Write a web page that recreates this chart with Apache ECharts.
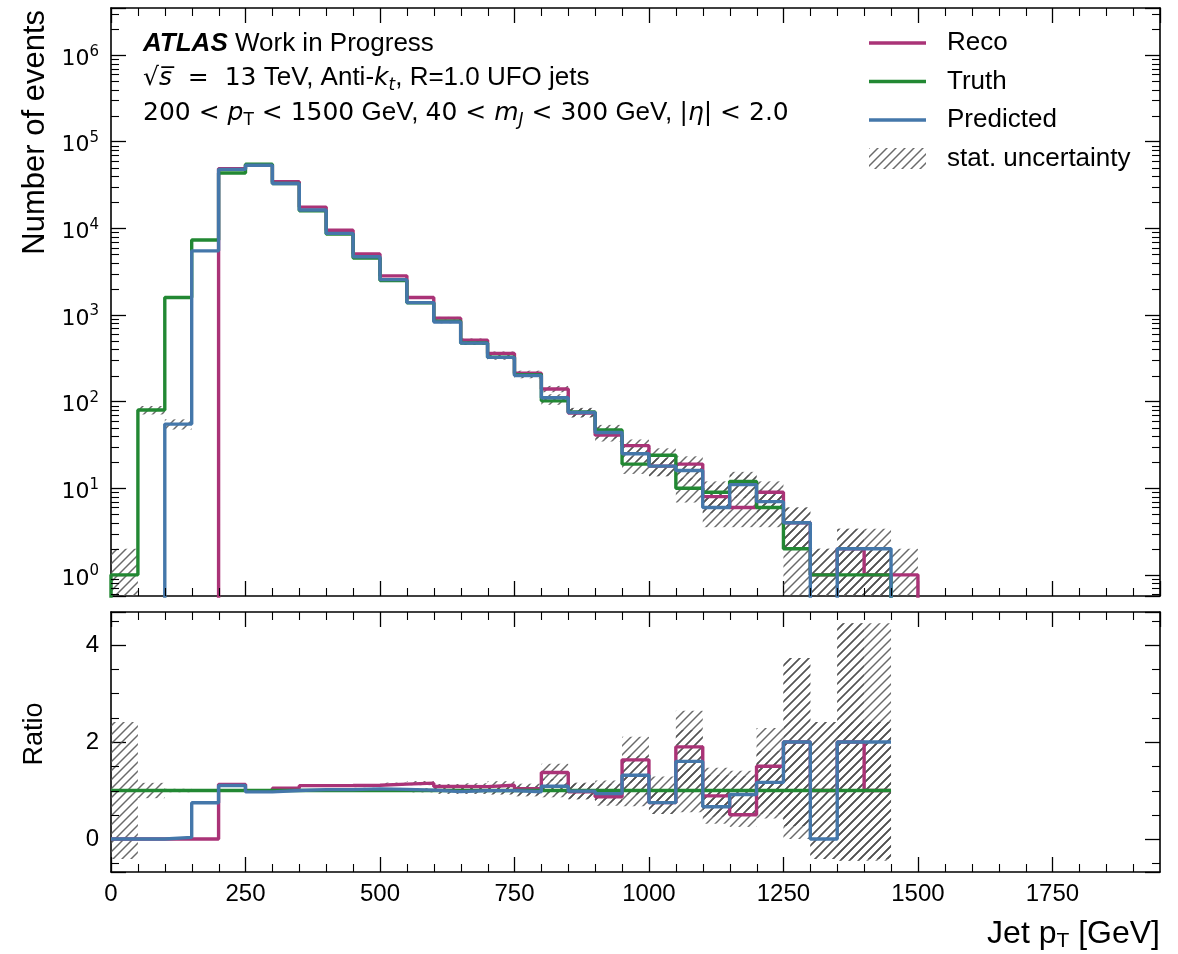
<!DOCTYPE html>
<html>
<head>
<meta charset="utf-8">
<script src="https://cdn.jsdelivr.net/npm/echarts@6/dist/echarts.min.js"></script>
<style>
html,body{margin:0;padding:0;background:#fff;}
#chart{width:1178px;height:954px;}
</style>
</head>
<body>
<div id="chart"></div>
<script>
// ---------------- data ----------------
const binEdges = [0,50,100,150,200,250,300,350,400,450,500,550,600,650,700,750,800,850,900,950,1000,1050,1100,1150,1200,1250,1300,1350,1400,1450,1500];
const reco      = [0,0,0,0,49000,54000,34500,17600,9500,5050,2830,1590,920,513,360,213,140,74,41,31,18,19,8,6,9,4,1,2,1,1];
const truth     = [1,80,1590,7350,43500,55000,33000,16000,8600,4550,2500,1380,850,475,325,205,102,76,47,19,24,10,9,12,6,2,1,1,1,0];
const predicted = [0,0,55,5500,48000,53500,33000,16300,8750,4700,2560,1390,830,474,324,200,111,75,44,25,18,16,6,11,7,4,0,2,2,0];
const seriesNames = ['Reco','Truth','Predicted'];
const xTickLabels = [0,250,500,750,1000,1250,1500,1750];
const ratioTickLabels = [0,2,4];

// ---------------- axis ranges / styles ----------------
const X_RANGE = [0, 1950];
const Y_MAIN = [0.57, 3.5e6];
const Y_RATIO = [-0.68, 4.68];
const ZERO = 1e-3;
const FONT = 'Liberation Sans, Arial, Helvetica, sans-serif';
const MATH = 'DejaVu Sans, sans-serif';
const COLORS = {Reco:'#AA3377', Truth:'#228833', Predicted:'#4477AA'};
const LW = 3.4;

function makeHatch(){
  const s = 9, c = document.createElement('canvas');
  c.width = s; c.height = s;
  const g = c.getContext('2d');
  g.strokeStyle = 'rgba(80,80,80,0.85)';
  g.lineWidth = 1.45;
  g.beginPath();
  g.moveTo(-1, s+1); g.lineTo(s+1, -1);
  g.moveTo(-1, 1); g.lineTo(1, -1);
  g.moveTo(s-1, s+1); g.lineTo(s+1, s-1);
  g.stroke();
  return c;
}
const hatch = {image: makeHatch(), repeat: 'repeat'};

// ---------------- derived series ----------------
const hists = {Reco: reco, Truth: truth, Predicted: predicted};
const nb = truth.length;

function stepMain(vals){
  const pts = [[binEdges[0], ZERO]];
  for (let i = 0; i < nb; i++) pts.push([binEdges[i], vals[i] > 0 ? vals[i] : ZERO]);
  pts.push([binEdges[nb], vals[nb-1] > 0 ? vals[nb-1] : ZERO]);
  pts.push([binEdges[nb], ZERO]);
  return pts;
}
function ratioVals(vals){
  return vals.map((v,i) => truth[i] > 0 ? v / truth[i] : null);
}
function stepRatio(vals){
  const r = ratioVals(vals);
  const pts = [];
  let last = null;
  for (let i = 0; i < nb; i++){
    if (r[i] === null) break;
    pts.push([binEdges[i], r[i]]);
    last = i;
  }
  pts.push([binEdges[last+1], r[last]]);
  return pts;
}
function mainBands(){
  const out = [];
  seriesNames.forEach(n => {
    hists[n].forEach((v,i) => {
      if (v > 0){
        const e = Math.sqrt(v);
        out.push([binEdges[i], binEdges[i+1], Math.max(v - e, Y_MAIN[0]), Math.min(v + e, Y_MAIN[1])]);
      }
    });
  });
  return out;
}
function ratioBands(){
  const out = [];
  seriesNames.forEach(n => {
    hists[n].forEach((v,i) => {
      const t = truth[i];
      if (t > 0 && v > 0){
        const r = v / t;
        const e = r * Math.sqrt(1/v + 1/t);
        out.push([binEdges[i], binEdges[i+1], Math.max(r - e, Y_RATIO[0]), Math.min(r + e, Y_RATIO[1])]);
      }
    });
  });
  return out;
}
// minor tick values
const xMinor = [];
for (let v = 50; v < X_RANGE[1]; v += 50) if (v % 250 !== 0) xMinor.push(v);
const yMinorMain = [];
for (let d = -1; d <= 6; d++) for (let m = 2; m <= 9; m++){ const v = m * Math.pow(10, d); if (v > Y_MAIN[0] && v < Y_MAIN[1]) yMinorMain.push(v); }
const yMinorRatio = [];
for (let v = -0.5; v < Y_RATIO[1]; v += 0.5) if (Math.abs(v/2 - Math.round(v/2)) > 1e-9 && v > Y_RATIO[0]) yMinorRatio.push(v);

function tickData(yMinor, yRef){
  const d = [];
  yMinor.forEach(v => d.push([X_RANGE[0], v, 0]));
  xMinor.forEach(v => d.push([v, yRef, 1]));
  return d;
}

// ---------------- render helpers ----------------
function bandRender(params, api){
  const p0 = api.coord([api.value(0), api.value(3)]);
  const p1 = api.coord([api.value(1), api.value(2)]);
  return {type:'rect', shape:{x:p0[0], y:p0[1], width:p1[0]-p0[0], height:p1[1]-p0[1]},
          style:{fill: hatch, stroke: null}};
}
function tickRender(params, api){
  const cs = params.coordSys;
  const kind = api.value(2);
  const p = api.coord([api.value(0), api.value(1)]);
  const L = 8, st = {stroke:'#000', lineWidth:1.1};
  if (kind === 0){
    const y = Math.round(p[1]) + 0.5;
    return {type:'group', children:[
      {type:'line', shape:{x1:cs.x, y1:y, x2:cs.x+L, y2:y}, style:st},
      {type:'line', shape:{x1:cs.x+cs.width-L, y1:y, x2:cs.x+cs.width, y2:y}, style:st}
    ]};
  }
  const x = Math.round(p[0]) + 0.5;
  return {type:'group', children:[
    {type:'line', shape:{x1:x, y1:cs.y+cs.height, x2:x, y2:cs.y+cs.height-L}, style:st},
    {type:'line', shape:{x1:x, y1:cs.y, x2:x, y2:cs.y+L}, style:st}
  ]};
}

const axisLineStyle = {show:true, onZero:false, lineStyle:{color:'#000', width:1.6}};
const majorTick = {show:true, inside:true, length:15, lineStyle:{color:'#000', width:1.3}};

function xAx(grid, pos, labels){
  return {gridIndex:grid, type:'value', position:pos, min:X_RANGE[0], max:X_RANGE[1], interval:250,
    axisLine:axisLineStyle, axisTick:majorTick, splitLine:{show:false},
    axisLabel:{show:labels, showMaxLabel:false, color:'#000', fontSize:24, fontFamily:FONT, margin:10,
      formatter: v => (xTickLabels.indexOf(v) >= 0 ? String(v) : '')}};
}
function yLog(pos, labels){
  return {gridIndex:0, type:'log', logBase:10, position:pos, min:Y_MAIN[0], max:Y_MAIN[1],
    axisLine:axisLineStyle, axisTick:majorTick, splitLine:{show:false}, minorTick:{show:false},
    axisLabel:{show:labels, color:'#000', margin:12, fontFamily:MATH, padding:[8,0,0,0],
      formatter: v => { const e = Math.log10(v), r = Math.round(e); return Math.abs(e - r) < 1e-6 ? '{b|10}{s|' + r + '}' : ''; },
      rich:{b:{fontSize:22, lineHeight:30, fontFamily:MATH, color:'#000'},
            s:{fontSize:15, lineHeight:18, verticalAlign:'top', fontFamily:MATH, color:'#000'}}}};
}
function yRatio(pos, labels){
  return {gridIndex:1, type:'value', position:pos, min:Y_RATIO[0], max:Y_RATIO[1], splitNumber:3,
    axisLine:axisLineStyle, axisTick:majorTick, splitLine:{show:false},
    axisLabel:{show:labels, color:'#000', fontSize:24, fontFamily:FONT, margin:12,
      formatter: v => { const r = Math.round(v); return (Math.abs(v - r) < 1e-9 && ratioTickLabels.indexOf(r) >= 0) ? String(r) : ''; }}};
}

const series = [];
// bands
series.push({name:'stat. uncertainty', type:'custom', xAxisIndex:0, yAxisIndex:0, renderItem:bandRender,
  encode:{x:[0,1], y:[2,3]}, data:mainBands(), itemStyle:{color:hatch}, z:3, silent:true});
series.push({name:'stat. uncertainty', type:'custom', xAxisIndex:1, yAxisIndex:1, renderItem:bandRender,
  encode:{x:[0,1], y:[2,3]}, data:ratioBands(), itemStyle:{color:hatch}, z:3, silent:true});
// histograms
seriesNames.forEach((n, k) => {
  series.push({name:n, type:'line', xAxisIndex:0, yAxisIndex:0, step:'end', symbol:'none', showSymbol:false,
    data:stepMain(hists[n]), lineStyle:{color:COLORS[n], width:LW}, itemStyle:{color:COLORS[n]}, z:4+k, silent:true});
  series.push({name:n, type:'line', xAxisIndex:1, yAxisIndex:1, step:'end', symbol:'none', showSymbol:false,
    data:stepRatio(hists[n]), lineStyle:{color:COLORS[n], width:LW}, itemStyle:{color:COLORS[n]}, z:4+k, silent:true});
});
// minor ticks
series.push({type:'custom', xAxisIndex:0, yAxisIndex:0, renderItem:tickRender, data:tickData(yMinorMain, 1), z:10, silent:true});
series.push({type:'custom', xAxisIndex:1, yAxisIndex:1, renderItem:tickRender, data:tickData(yMinorRatio, 1), z:10, silent:true});

// rich text styles
const FS = 26;
const tN  = {fontSize:FS, lineHeight:32, fontFamily:FONT, fill:'#000'};
const tM  = {fontSize:25, lineHeight:32, fontFamily:MATH, fill:'#000'};
const tMi = Object.assign({}, tM, {fontStyle:'italic'});
const sM  = {fontSize:17, lineHeight:20, verticalAlign:'bottom', fontFamily:MATH, fill:'#000'};
const sMi = Object.assign({}, sM, {fontStyle:'italic'});
const lineIcon = 'path://M0,0 H57 V3.4 H0 Z';

const option = {
  animation:false,
  backgroundColor:'#fff',
  grid:[
    {left:111, top:8, width:1049, height:588, outerBoundsMode:'none'},
    {left:111, top:612, width:1049, height:260, outerBoundsMode:'none'}
  ],
  xAxis:[xAx(0,'bottom',false), xAx(1,'bottom',true), xAx(0,'top',false), xAx(1,'top',false)],
  yAxis:[yLog('left',true), yRatio('left',true), yLog('right',false), yRatio('right',false)],
  legend:{orient:'vertical', left:869, top:29, padding:0, itemWidth:57, itemHeight:21, itemGap:10.5, selectedMode:false,
    textStyle:{fontSize:26, lineHeight:28, color:'#000', fontFamily:FONT, padding:[0,0,0,16]},
    data:[{name:'Reco', icon:lineIcon},{name:'Truth', icon:lineIcon},{name:'Predicted', icon:lineIcon},
          {name:'stat. uncertainty', icon:'rect', itemStyle:{color:hatch, borderWidth:0}}]},
  graphic:[
    {type:'text', left:143, top:31, style:{text:'{a|ATLAS}{n| Work in Progress}',
      rich:{a:Object.assign({}, tN, {fontWeight:'bold', fontStyle:'italic'}), n:tN}}},
    {type:'text', left:143, top:65, style:{text:'{m|\u221A}{mi|s\u0305}{m|  =  13}{n| TeV, Anti-}{mi|k}{si|t}{n|, R=1.0 UFO jets}',
      rich:{n:tN, m:tM, mi:tMi, si:sMi}}},
    {type:'text', left:143, top:100, style:{text:'{m|200 < }{mi|p}{s|T}{m| < 1500}{n| GeV, }{m|40 < }{mi|m}{si|J}{m| < 300}{n| GeV, }{m||}{mi|\u03B7}{m|| < 2.0}',
      rich:{n:tN, m:tM, mi:tMi, s:sM, si:sMi}}},
    {type:'text', x:35, y:10, rotation:Math.PI/2, style:{text:'Number of events', font:'31px ' + FONT, fill:'#000', textAlign:'right', textVerticalAlign:'middle'}},
    {type:'text', x:35, y:734, rotation:Math.PI/2, style:{text:'Ratio', font:'27px ' + FONT, fill:'#000', textAlign:'center', textVerticalAlign:'middle'}},
    {type:'text', right:18, top:918, style:{text:'{n|Jet p}{s|T}{n| [GeV]}',
      rich:{n:{fontSize:32, lineHeight:36, fontFamily:FONT, fill:'#000'}, s:{fontSize:21, lineHeight:22, verticalAlign:'bottom', fontFamily:FONT, fill:'#000'}}}}
  ],
  series:series
};

const chart = echarts.init(document.getElementById('chart'), null, {renderer:'canvas'});
chart.setOption(option);
</script>
</body>
</html>
